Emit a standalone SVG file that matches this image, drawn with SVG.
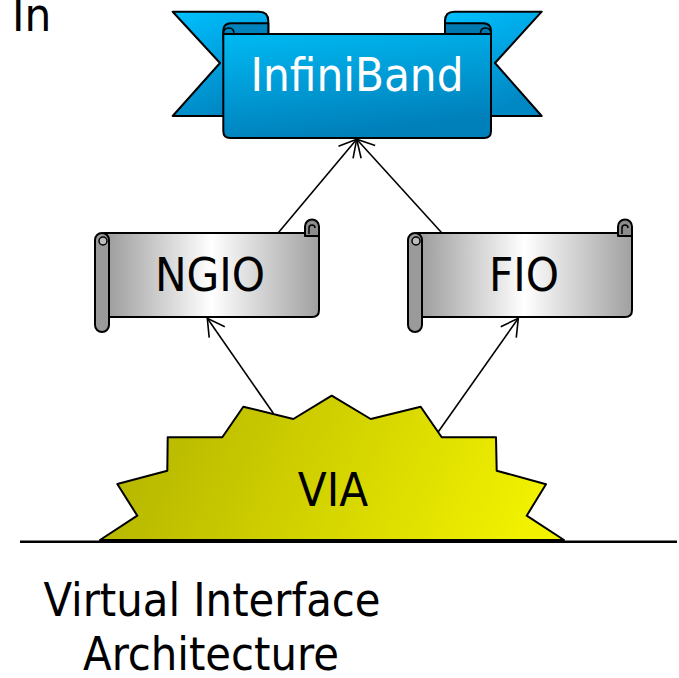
<svg xmlns="http://www.w3.org/2000/svg" xmlns:xlink="http://www.w3.org/1999/xlink" width="679" height="678" viewBox="0 0 679 678">
  <style>
    .outline { stroke: #000; stroke-width: 2; stroke-linejoin: round; }
    .label { font-family: 'DejaVu Sans Condensed', 'DejaVu Sans', sans-serif; font-size: 47px; text-anchor: middle; fill: #000; }
    .conn { stroke: #000; stroke-width: 1.6; fill: none; marker-end: url(#open-arrow); }
  </style>
  <defs>
    <linearGradient id="band-fill" x1="0" y1="0" x2="0.3" y2="1">
      <stop offset="0" stop-color="#00baf3"/>
      <stop offset="1" stop-color="#0080bb"/>
    </linearGradient>
    <linearGradient id="tail-fill" x1="0" y1="0" x2="0.4" y2="1">
      <stop offset="0" stop-color="#00c0ff"/>
      <stop offset="1" stop-color="#0088c4"/>
    </linearGradient>
    <linearGradient id="scroll-fill" x1="0" y1="0" x2="1" y2="0">
      <stop offset="0" stop-color="#9a9a9a"/>
      <stop offset="0.5" stop-color="#ffffff"/>
      <stop offset="1" stop-color="#a0a0a0"/>
    </linearGradient>
    <linearGradient id="star-fill" gradientUnits="userSpaceOnUse" x1="150" y1="395" x2="520" y2="560">
      <stop offset="0" stop-color="#b6b600"/>
      <stop offset="1" stop-color="#f2f200"/>
    </linearGradient>
    <marker id="open-arrow" markerUnits="userSpaceOnUse" markerWidth="24" markerHeight="24" viewBox="-20 -12 24 24" refX="0" refY="0" orient="auto">
      <path d="M-17,-9.5 L0,0 L-17,9.5" fill="none" stroke="#000" stroke-width="1.6"/>
    </marker>
    <!-- horizontal scroll: body, left roll and top-right curl -->
    <g id="scroll-shape">
      <path class="outline" fill="url(#scroll-fill)" d="M104,233 H319 V310 Q319,317 312,317 H104 Z"/>
      <path class="outline" fill="#8c8c8c" d="M305,236 V226.5 A7,7 0 0 1 319,226.5 V236 Z"/>
      <path fill="none" stroke="#000" stroke-width="1.5" d="M309,234 V228 A3,3 0 0 1 315,228"/>
      <rect class="outline" fill="#9a9a9a" x="95" y="233" width="14" height="99" rx="7"/>
      <circle cx="103" cy="241" r="4" fill="#bdbdbd" stroke="#000" stroke-width="1.5"/>
    </g>
  </defs>

  <rect width="679" height="678" fill="#fff"/>

  <text class="label" x="12" y="31" style="text-anchor:start">In</text>

  <!-- InfiniBand ribbon -->
  <g id="node-infiniband">
    <path class="outline" fill="url(#tail-fill)" d="M172.7,11.7 H259 Q268.3,11.7 268.3,21 V60 H230 V116 H172.7 L220,63 Z"/>
    <path class="outline" fill="url(#tail-fill)" d="M541.7,11.7 H454.3 Q445,11.7 445,21 V60 H485 V116 H541.7 L495,63 Z"/>
    <path class="outline" fill="#0083bd" d="M223.3,40 V31 Q223.3,23.3 231,23.3 H268.3 V40 Z"/>
    <path class="outline" fill="#0079b0" d="M491,40 V31 Q491,23.3 483.3,23.3 H445 V40 Z"/>
    <path class="outline" fill="url(#band-fill)" d="M223.3,34 H491 V131 Q491,138 484,138 H230.3 Q223.3,138 223.3,131 Z"/>
    <path fill="none" stroke="#000" stroke-width="1.5" d="M223.3,34 Q223.3,28 229,28 Q234,28 234,34"/>
    <path fill="none" stroke="#000" stroke-width="1.5" d="M491,34 Q491,28 485.3,28 Q480.3,28 480.3,34"/>
    <text class="label" x="357" y="91" style="fill:#fff">InfiniBand</text>
  </g>

  <g id="node-ngio">
    <use xlink:href="#scroll-shape" href="#scroll-shape"/>
    <text class="label" x="210" y="291">NGIO</text>
  </g>

  <g id="node-fio">
    <use xlink:href="#scroll-shape" href="#scroll-shape" x="313"/>
    <text class="label" x="524" y="291">FIO</text>
  </g>

  <g id="node-via">
    <polygon class="outline" fill="url(#star-fill)" points="100,540 137.3,515.7 117.3,484 167.3,470.7 167.7,437.3 222.3,437.3 243.3,406.7 293.3,419 331.7,395.7 370.7,419 420.7,406.7 441.7,437.3 496,437.3 496.7,470.7 546,484.3 526.7,515.7 564,540"/>
    <text class="label" x="333" y="506">VIA</text>
  </g>

  <line x1="20" y1="541.7" x2="677" y2="541.7" stroke="#000" stroke-width="2.5"/>

  <g id="connectors">
    <line class="conn" x1="278.3" y1="232.7" x2="356.7" y2="139.3"/>
    <line class="conn" x1="441.7" y1="232.7" x2="356.7" y2="139.3"/>
    <line class="conn" x1="273.3" y1="413.3" x2="207.3" y2="318.3"/>
    <line class="conn" x1="438.3" y1="431.7" x2="518.3" y2="318.3"/>
  </g>

  <text class="label" x="212" y="616" style="font-size:46.5px">Virtual Interface</text>
  <text class="label" x="211" y="670" style="font-size:46.5px">Architecture</text>
</svg>
